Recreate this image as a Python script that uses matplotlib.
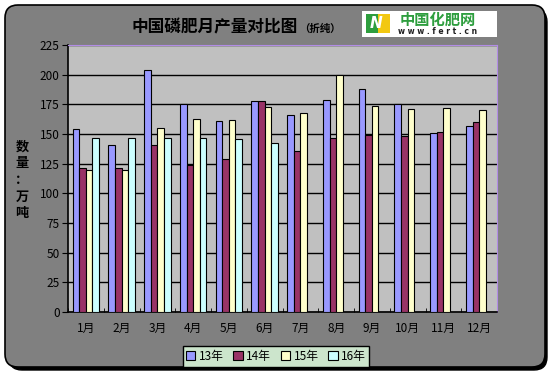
import numpy as np
import matplotlib
matplotlib.use('Agg')
import matplotlib.pyplot as plt
from matplotlib.patches import FancyBboxPatch, Rectangle

plt.rcParams['font.family'] = ['Noto Sans CJK SC', 'DejaVu Sans']

months = ['1月', '2月', '3月', '4月', '5月', '6月', '7月', '8月', '9月', '10月', '11月', '12月']
series_names = ['13年', '14年', '15年', '16年']
y13 = [154, 141, 204, 175, 161, 178, 166, 179, 188, 175, 151, 157]
y14 = [121, 121, 141, 124, 129, 178, 136, 147, 149, 148, 152, 160]
y15 = [120, 120, 155, 163, 162, 173, 168, 200, 174, 171, 172, 170]
y16 = [147, 147, 147, 147, 146, 142, np.nan, np.nan, np.nan, np.nan, np.nan, np.nan]
colors = ['#9999FF', '#993366', '#FFFFCC', '#CCFFFF']

W, H = 554, 378
fig = plt.figure(figsize=(W / 100, H / 100), dpi=100)
fig.patch.set_facecolor('white')

# background layer in pixel units
bg = fig.add_axes([0, 0, 1, 1])
bg.set_xlim(0, W)
bg.set_ylim(H, 0)
bg.axis('off')
bg.add_patch(FancyBboxPatch((9, 9), 538, 361, boxstyle='round,pad=0,rounding_size=13',
                            facecolor='black', edgecolor='black', lw=1))
bg.add_patch(FancyBboxPatch((5, 5), 540, 362, boxstyle='round,pad=0,rounding_size=13',
                            facecolor='#808080', edgecolor='black', lw=1.2))

# logo
bg.add_patch(Rectangle((362, 11), 135, 26, facecolor='white', edgecolor='none'))
bg.add_patch(Rectangle((366, 14), 12, 19, facecolor='#2E9E3E', edgecolor='none'))
bg.add_patch(Rectangle((378, 14), 12, 19, facecolor='#F2C811', edgecolor='none'))
bg.text(376, 24, 'N', color='white', fontsize=11, fontweight='bold', ha='center', va='center',
        style='italic', family='DejaVu Sans')
bg.text(438, 20, '中国化肥网', color='#2E9E3E', fontsize=11, fontweight='bold', ha='center', va='center')
bg.text(438, 31, 'w w w . f e r t . c n', color='#222222', fontsize=5.5, ha='center', va='center',
        family='DejaVu Sans', fontweight='bold')

# title
bg.text(215, 27, '中国磷肥月产量对比图', fontsize=12, fontweight='bold', ha='center', va='center')
bg.text(320, 29, '（折纯）', fontsize=7.5, fontweight='bold', ha='center', va='center')

# y label
bg.text(22, 180, '数\n量\n：\n万\n吨', fontsize=9.5, fontweight='bold', ha='center', va='center',
        linespacing=1.25)

ax = fig.add_axes([68 / W, 1 - 312 / H, 429 / W, 267 / H])
ax.set_facecolor('#C0C0C0')
x = np.arange(len(months))
bw = 0.185
all_series = [y13, y14, y15, y16]
for i, (vals, c, name) in enumerate(zip(all_series, colors, series_names)):
    ax.bar(x + (i - 1.5) * bw, vals, width=bw, color=c, edgecolor='black', linewidth=0.8,
           label=name, zorder=3)

ax.set_xlim(-0.5, len(months) - 0.5)
ax.set_ylim(0, 225)
ax.set_yticks(np.arange(0, 226, 25))
ax.yaxis.grid(True, color='black', linewidth=1, zorder=1)
ax.set_axisbelow(True)
ax.set_xticks(x)
ax.set_xticklabels(months)
ax.set_xticks(np.arange(-0.5, len(months), 1), minor=True)
ax.tick_params(axis='x', which='major', length=0, pad=7, labelsize=8.5)
ax.tick_params(axis='x', which='minor', length=3, direction='in')
ax.tick_params(axis='y', length=4, labelsize=8.5, pad=2)
for lbl in ax.get_xticklabels() + ax.get_yticklabels():
    lbl.set_color('black')
ax.spines['top'].set_color('#B28CE6')
ax.spines['right'].set_color('#B28CE6')
ax.spines['left'].set_linewidth(1.2)
ax.spines['bottom'].set_linewidth(1.2)

leg = fig.legend(loc='center', bbox_to_anchor=(276 / W, 1 - 356.5 / H), ncol=4, fontsize=8.5,
                 frameon=True, fancybox=False, handlelength=0.8, handleheight=0.8,
                 handletextpad=0.3, columnspacing=0.8, borderpad=0.3)
leg.get_frame().set_facecolor('#CCE5CC')
leg.get_frame().set_edgecolor('black')
leg.get_frame().set_alpha(1)

fig.savefig('out.png', dpi=100)
